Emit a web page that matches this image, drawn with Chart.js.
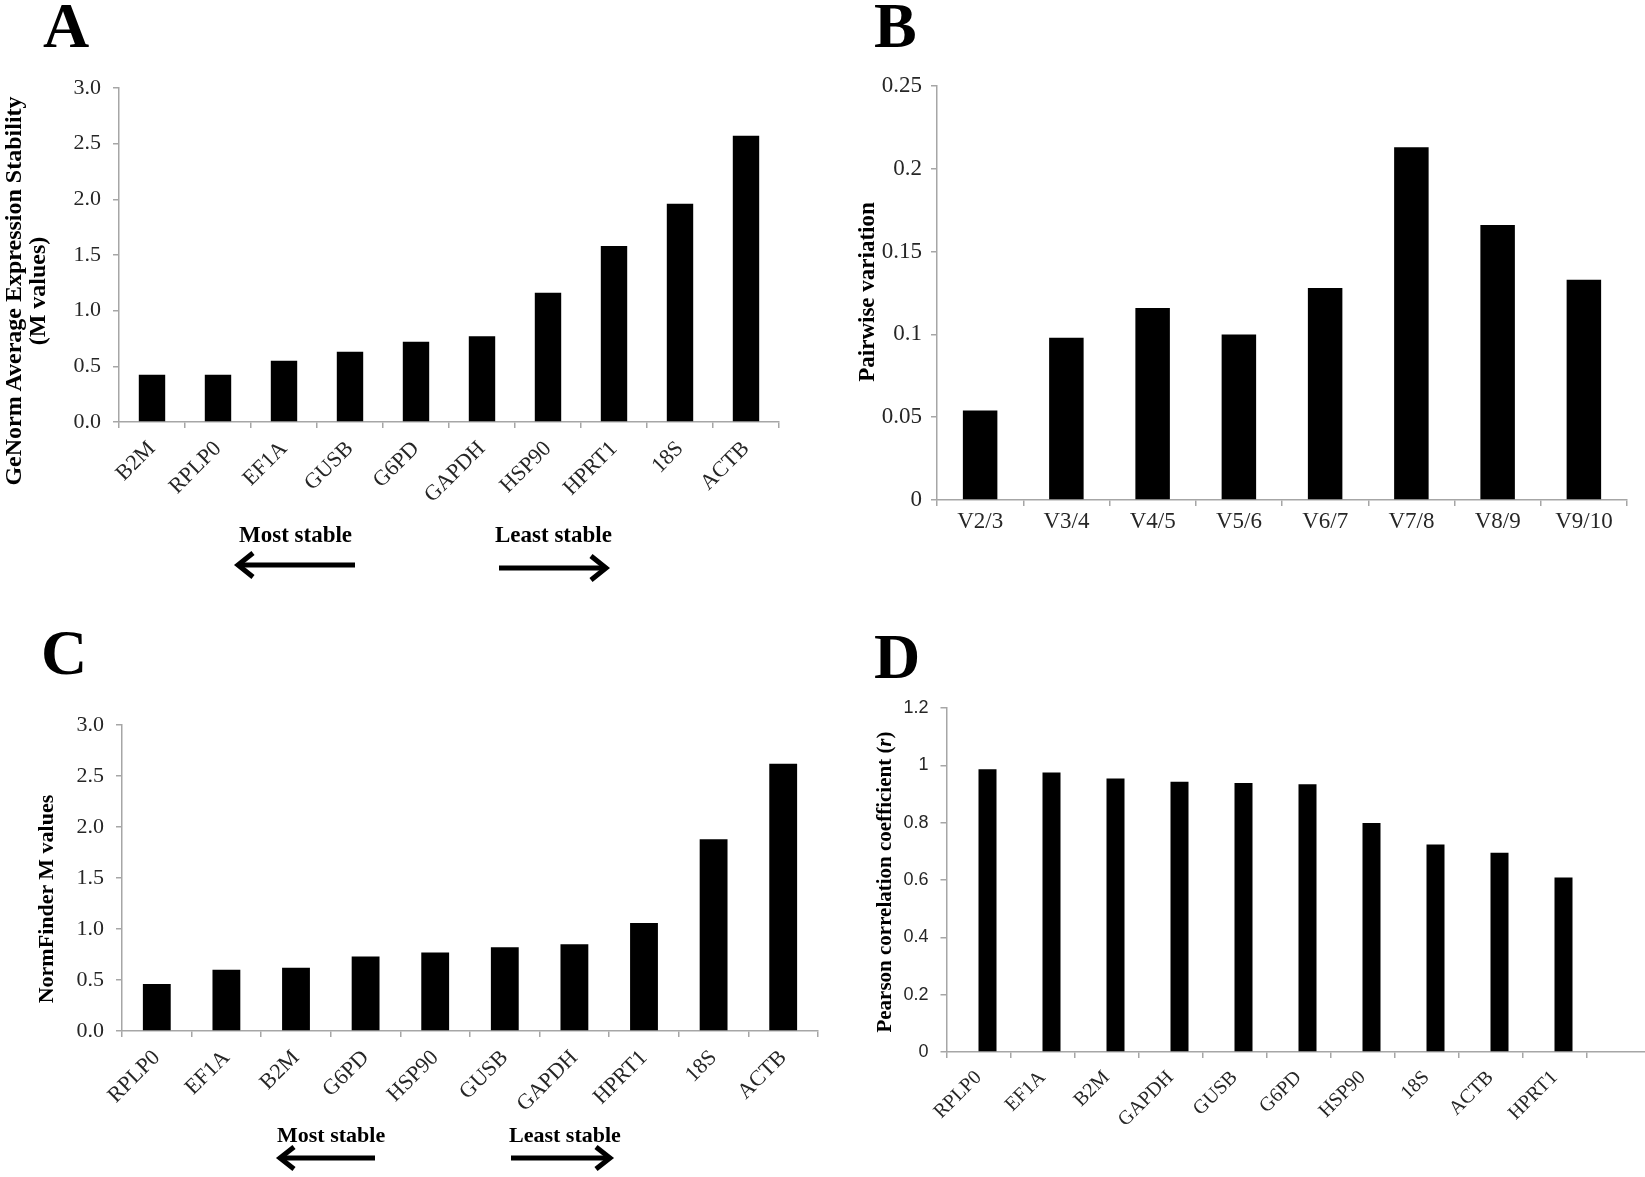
<!DOCTYPE html>
<html>
<head>
<meta charset="utf-8">
<script src="https://cdn.jsdelivr.net/npm/chart.js@4.4.1/dist/chart.umd.min.js"></script>
<style>
  html, body { margin:0; padding:0; background:#fff; }
  #page { position:relative; width:1645px; height:1177px; overflow:hidden; background:#fff; }
  canvas { position:absolute; }
  #overlay { position:absolute; left:0; top:0; pointer-events:none; }
  .serif { font-family:"Liberation Serif","Times New Roman",serif; }
</style>
</head>
<body>
<div id="page">
  <canvas id="cA" width="800" height="470" style="left:0px;top:50px"></canvas>
  <canvas id="cB" width="825" height="520" style="left:820px;top:50px"></canvas>
  <canvas id="cC" width="830" height="440" style="left:0px;top:690px"></canvas>
  <canvas id="cD" width="830" height="507" style="left:830px;top:670px"></canvas>
  <svg id="overlay" width="1645" height="1177" xmlns="http://www.w3.org/2000/svg">
    <g class="serif" font-weight="bold" fill="#000">
      <text x="43" y="47" font-size="64">A</text>
      <text x="874" y="47" font-size="64">B</text>
      <text x="41" y="674" font-size="64">C</text>
      <text x="874" y="678" font-size="64">D</text>

      <text transform="translate(13,291) rotate(-90)" text-anchor="middle" dominant-baseline="central" font-size="24">GeNorm Average Expression Stability</text>
      <text transform="translate(37,291) rotate(-90)" text-anchor="middle" dominant-baseline="central" font-size="24">(M values)</text>
      <text transform="translate(866,292) rotate(-90)" text-anchor="middle" dominant-baseline="central" font-size="23">Pairwise variation</text>
      <text transform="translate(45,899) rotate(-90)" text-anchor="middle" dominant-baseline="central" font-size="22">NormFinder M values</text>
      <text transform="translate(884,882) rotate(-90)" text-anchor="middle" dominant-baseline="central" font-size="21">Pearson correlation coefficient (<tspan font-style="italic">r</tspan>)</text>

      <text x="239" y="542" font-size="23">Most stable</text>
      <text x="495" y="542" font-size="23">Least stable</text>
      <text x="277" y="1142" font-size="22">Most stable</text>
      <text x="509" y="1142" font-size="22">Least stable</text>
    </g>
    <g stroke="#000" stroke-width="5" fill="none" stroke-linecap="butt" stroke-linejoin="miter">
      <line x1="355" y1="565" x2="239" y2="565"/>
      <polyline points="253,553 238,565 253,577"/>
      <line x1="499" y1="568" x2="603" y2="568"/>
      <polyline points="591,556 606,568 591,580"/>
      <line x1="375" y1="1158" x2="282" y2="1158"/>
      <polyline points="294,1147 280,1158 294,1169"/>
      <line x1="511" y1="1158" x2="607" y2="1158"/>
      <polyline points="596,1147 610,1158 596,1169"/>
    </g>
  </svg>
</div>
<script>
// ---- Data ----
const aGenes = ['B2M','RPLP0','EF1A','GUSB','G6PD','GAPDH','HSP90','HPRT1','18S','ACTB'];
const aValues = [0.425, 0.425, 0.55, 0.63, 0.72, 0.77, 1.16, 1.58, 1.96, 2.57];
const aTickLabels = ['0.0','0.5','1.0','1.5','2.0','2.5','3.0'];

const bPairs = ['V2/3','V3/4','V4/5','V5/6','V6/7','V7/8','V8/9','V9/10'];
const bValues = [0.054, 0.098, 0.116, 0.100, 0.128, 0.213, 0.166, 0.133];
const bTickLabels = ['0','0.05','0.1','0.15','0.2','0.25'];

const cGenes = ['RPLP0','EF1A','B2M','G6PD','HSP90','GUSB','GAPDH','HPRT1','18S','ACTB'];
const cValues = [0.46, 0.60, 0.62, 0.73, 0.77, 0.82, 0.85, 1.06, 1.88, 2.62];
const cTickLabels = ['0.0','0.5','1.0','1.5','2.0','2.5','3.0'];

const dGenes = ['RPLP0','EF1A','B2M','GAPDH','GUSB','G6PD','HSP90','18S','ACTB','HPRT1',''];
const dValues = [0.986, 0.975, 0.954, 0.943, 0.938, 0.934, 0.799, 0.724, 0.695, 0.609];
const dTickLabels = ['0','0.2','0.4','0.6','0.8','1','1.2'];

// ---- Styling ----
const SERIF = '"Liberation Serif", "Times New Roman", serif';
const SANS = '"Liberation Sans", Arial, sans-serif';
const AXIS = '#a6a6a6';
const TXT = '#262626';

function labelFor(list) {
  return (v) => {
    const hit = list.find(l => l !== '' && Math.abs(parseFloat(l) - v) < 1e-6);
    return hit === undefined ? '' : hit;
  };
}

function makeBar(id, o) {
  const datasets = o.datasets.map(d => ({
    data: d,
    backgroundColor: '#000',
    borderWidth: 0,
    barPercentage: o.barPct,
    categoryPercentage: o.catPct
  }));
  return new Chart(document.getElementById(id), {
    type: 'bar',
    data: { labels: o.labels, datasets },
    options: {
      responsive: false,
      animation: false,
      events: [],
      layout: { padding: { left: 0, top: o.padTop, right: o.padRight, bottom: 0 } },
      plugins: { legend: { display: false }, tooltip: { enabled: false } },
      scales: {
        x: {
          type: 'category',
          offset: true,
          grid: { offset: true, display: true, drawOnChartArea: false, drawTicks: true, tickLength: 6, color: AXIS, lineWidth: 1.5 },
          border: { display: true, color: AXIS, width: 1.5 },
          ticks: { autoSkip: false, minRotation: o.rot, maxRotation: o.rot, padding: o.xPad, color: TXT,
                   font: { family: o.xFont || SERIF, size: o.xSize } },
          afterFit: (s) => { s.height = o.xH; }
        },
        y: {
          min: 0, max: o.max,
          grid: { display: true, drawOnChartArea: false, drawTicks: true, tickLength: 6, color: AXIS, lineWidth: 1.5 },
          border: { display: true, color: AXIS, width: 1.5 },
          ticks: { stepSize: o.step, padding: o.yPad, color: TXT,
                   font: { family: o.yFont || SERIF, size: o.ySize },
                   callback: labelFor(o.tickLabels) },
          afterFit: (s) => { s.width = o.yW; }
        }
      }
    }
  });
}

makeBar('cA', { labels: aGenes, datasets: [aValues], barPct: 0.4, catPct: 1.0,
  padTop: 38, padRight: 21, yW: 119, xH: 98, max: 3.0, step: 0.5, tickLabels: aTickLabels,
  rot: 45, xPad: 8, xSize: 22, ySize: 22, yPad: 12 });

makeBar('cB', { labels: bPairs, datasets: [bValues], barPct: 0.4, catPct: 1.0,
  padTop: 36, padRight: 18, yW: 117, xH: 70, max: 0.25, step: 0.05, tickLabels: bTickLabels,
  rot: 0, xPad: 2, xSize: 23, ySize: 23, yPad: 9 });

makeBar('cC', { labels: cGenes, datasets: [cValues], barPct: 0.4, catPct: 1.0,
  padTop: 35, padRight: 12, yW: 122, xH: 99, max: 3.0, step: 0.5, tickLabels: cTickLabels,
  rot: 45, xPad: 8, xSize: 22, ySize: 22, yPad: 12 });

makeBar('cD', { labels: dGenes, datasets: [[], dValues], barPct: 1.0, catPct: 0.5625,
  padTop: 38, padRight: 9.5, yW: 116.5, xH: 125, max: 1.2, step: 0.2, tickLabels: dTickLabels,
  rot: 45, xPad: 8, xSize: 20, ySize: 18, yFont: SANS, yPad: 12 });
</script>
</body>
</html>
